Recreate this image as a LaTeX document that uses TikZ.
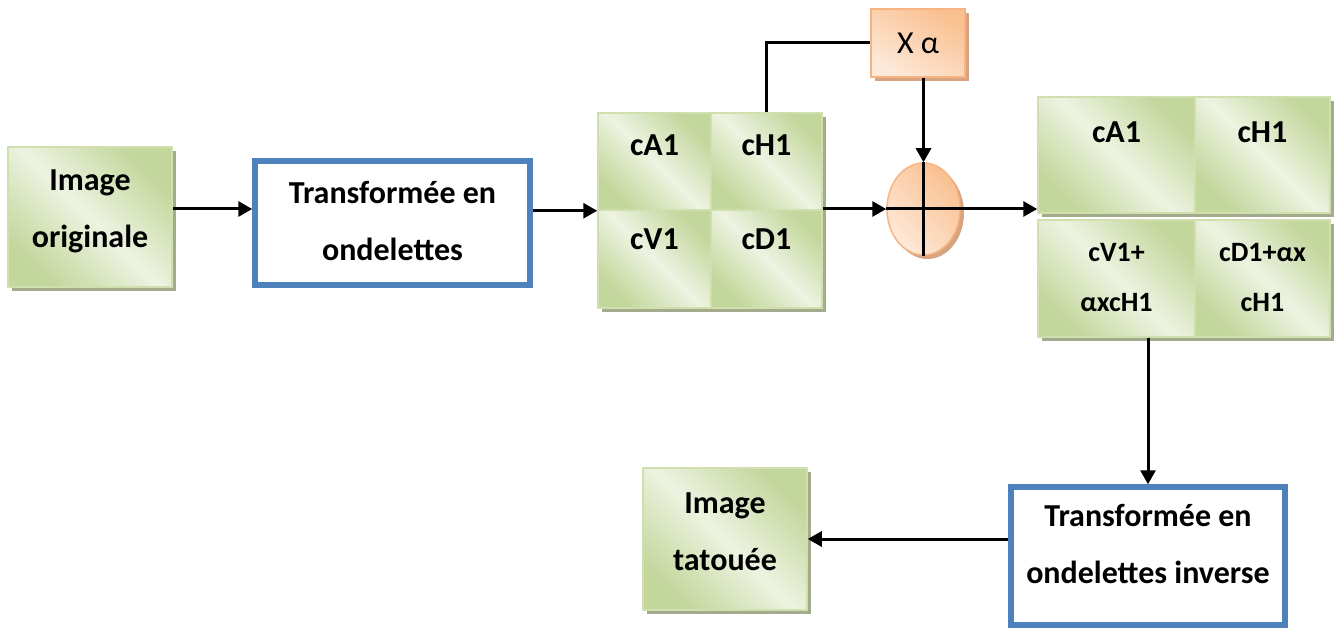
\documentclass[tikz,border=0pt]{standalone}
\usepackage{fontspec}
\setmainfont{Carlito}
\usetikzlibrary{arrows.meta,shapes.geometric,shadows}
\definecolor{grdark}{HTML}{C3D69B}
\definecolor{grlight}{HTML}{EDF3E1}
\definecolor{grline}{HTML}{CFDFAE}
\definecolor{grshadow}{HTML}{A3AB8C}
\definecolor{ordark}{HTML}{FAC090}
\definecolor{orlight}{HTML}{FDE9D9}
\definecolor{orline}{HTML}{F6B483}
\definecolor{orshadow}{HTML}{D7A47F}
\definecolor{blueline}{HTML}{4F81BD}
\tikzset{
  greenbox/.style={draw=grline, line width=1.5pt, top color=grdark, bottom color=grdark,
    middle color=grlight, shading angle=-45,
    drop shadow={shadow xshift=4pt, shadow yshift=-4pt, fill=grshadow, opacity=1},
    inner sep=0pt, align=center, font=\bfseries\fontsize{32}{57}\selectfont},
  smalltext/.style={font=\bfseries\fontsize{28}{50}\selectfont},
  bluebox/.style={draw=blueline, line width=5.5pt, fill=white, inner sep=0pt,
    align=center, font=\bfseries\fontsize{32}{57}\selectfont},
  orangebox/.style={draw=orline, line width=1.5pt, left color=ordark, right color=orlight,
    shading angle=-30,
    drop shadow={shadow xshift=4pt, shadow yshift=-4pt, fill=orshadow, opacity=1},
    inner sep=0pt, font=\fontsize{32}{38}\selectfont},
  conn/.style={line width=3pt}
}
\begin{document}
\begin{tikzpicture}[x=1pt, y=-1pt, >={Triangle[length=14pt,width=15pt]}]
 \useasboundingbox (0,0) rectangle (1339,628);
 % blocs
 \node[greenbox, minimum width=164, minimum height=140, text height=101pt, text depth=39pt]
   (orig) at (90,217) {Image\\originale};
 \node[bluebox, minimum width=275, minimum height=124, text height=100pt, text depth=24pt]
   (trans) at (392.5,223) {Transformée en\\ondelettes};
 % coefficients
 \node[greenbox, minimum width=113, minimum height=97, text height=43pt, text depth=54pt]
   (cA) at (654.5,161.5) {cA1};
 \node[greenbox, minimum width=111, minimum height=97, text height=43pt, text depth=54pt]
   (cH) at (766.5,161.5) {cH1};
 \node[greenbox, minimum width=113, minimum height=98, text height=40pt, text depth=58pt]
   (cV) at (654.5,259) {cV1};
 \node[greenbox, minimum width=111, minimum height=98, text height=40pt, text depth=58pt]
   (cD) at (766.5,259) {cD1};
 \node[orangebox, minimum width=94, minimum height=68] (xa) at (918,43) {X α\hspace{8pt}};
 \node[orangebox, ellipse, minimum width=73, minimum height=92, shading angle=-45,
   drop shadow={shadow xshift=3pt, shadow yshift=-3pt, fill=orshadow, opacity=1}]
   (plus) at (923.5,209) {};
 \draw[conn] (plus.north) -- (plus.south);
 \draw[conn] (plus.west) -- (plus.east);
 % coefficients marques
 \node[greenbox, minimum width=157, minimum height=116, text height=46pt, text depth=70pt]
   (rA) at (1116.5,155) {cA1};
 \node[greenbox, minimum width=135, minimum height=116, text height=46pt, text depth=70pt]
   (rH) at (1262.5,155) {cH1};
 \node[greenbox, smalltext, minimum width=157, minimum height=117, text height=92pt, text depth=25pt]
   (rV) at (1116.5,278.5) {cV1+\\αxcH1};
 \node[greenbox, smalltext, minimum width=135, minimum height=117, text height=92pt, text depth=25pt]
   (rD) at (1262.5,278.5) {cD1+αx\\cH1};
 % sortie
 \node[bluebox, minimum width=274, minimum height=138, text height=96pt, text depth=42pt]
   (inv) at (1148,556) {Transformée en\\ondelettes inverse};
 \node[greenbox, minimum width=164, minimum height=142, text height=102pt, text depth=40pt]
   (tat) at (725,539) {Image\\tatouée};
 % fleches
 \draw[conn, ->] ([yshift=8pt]orig.east) -- ([yshift=8pt]orig.east -| trans.west);
 \draw[conn, ->] (trans.east |- cA.south west) -- (cA.south west);
 \draw[conn] (cH.north) |- (xa.west);
 \draw[conn, ->] (plus.north |- xa.south) -- (plus.north);
 \draw[conn, ->] (cH.south east |- plus.west) -- (plus.west);
 \draw[conn, ->] (plus.east) -- (plus.east -| rA.west);
 \draw[conn, ->] (inv.north |- rV.south) -- (inv.north);
 \draw[conn, ->] (inv.west |- tat.east) -- (tat.east);
\end{tikzpicture}
\end{document}
